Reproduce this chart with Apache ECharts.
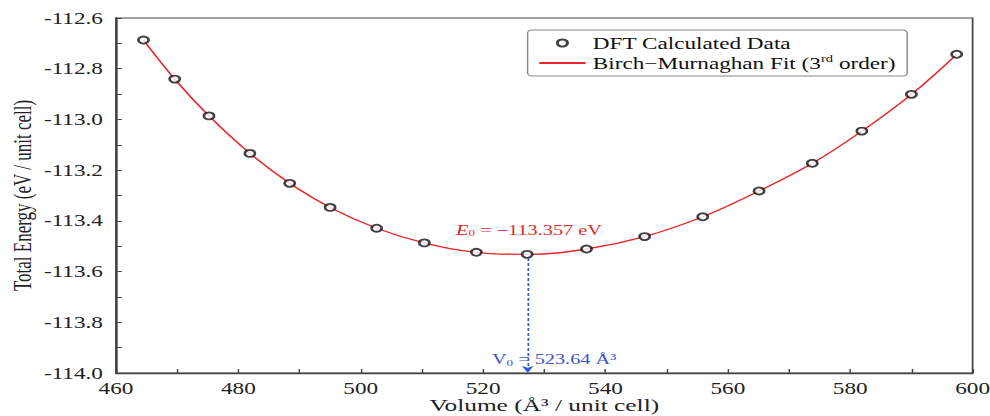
<!DOCTYPE html>
<html>
<head>
<meta charset="utf-8">
<script src="https://cdn.jsdelivr.net/npm/echarts/dist/echarts.min.js"></script>
<style>
  html, body { margin: 0; padding: 0; background: #fff; overflow: hidden; }
  /* the reference picture is stretched sideways, so draw narrow and stretch */
  #main { width: 683px; height: 416px; transform: scaleX(1.4495); transform-origin: 0 0; }
</style>
</head>
<body>
<div id="main"></div>
<script>
// DFT points
const volume = [464.5, 469.6, 475.2, 481.9, 488.4, 495.0, 502.6, 510.4, 518.9, 527.2, 536.9, 546.4, 555.9, 565.1, 573.8, 581.9, 590.0, 597.4]
const energy = [-112.687, -112.841, -112.986, -113.134, -113.252, -113.347, -113.429, -113.487, -113.524, -113.532, -113.511, -113.462, -113.384, -113.282, -113.173, -113.046, -112.901, -112.743]

const xMin = 460
const xMax = 600
const xStep = 20
const yMin = -114.0
const yMax = -112.6
const yStep = 0.2

const v0Line = 527.3

const serif = '"Liberation Serif", "Times New Roman", serif'
const points = volume.map((v, i) => [v, energy[i]])

const chart = echarts.init(document.getElementById('main'), null, { renderer: 'svg' })

chart.setOption({
  animation: false,
  grid: {
    left: 80,
    right: 12,
    top: 18,
    bottom: 43,
    outerBoundsMode: 'none',
    containLabel: false,
    show: true,
    borderColor: '#444',
    borderWidth: 1.2
  },
  legend: {
    orient: 'vertical',
    left: 364,
    top: 30,
    padding: [5, 8, 5, 7],
    itemWidth: 32,
    itemHeight: 7,
    itemGap: 3,
    borderColor: '#888',
    borderWidth: 1,
    borderRadius: 3,
    data: [
      'DFT Calculated Data',
      { name: 'Birch−Murnaghan Fit', itemStyle: { opacity: 0 } }
    ],
    formatter: name => {
      if (name === 'Birch−Murnaghan Fit') {
        return '{t|Birch−Murnaghan Fit (3}{sup|rd}{t| order)}'
      }
      return '{t|' + name + '}'
    },
    textStyle: {
      fontFamily: serif,
      rich: {
        t: { fontFamily: serif, fontSize: 16, color: '#111', lineHeight: 18 },
        sup: { fontFamily: serif, fontSize: 10, color: '#111', lineHeight: 10, verticalAlign: 'top' }
      }
    }
  },
  xAxis: {
    type: 'value',
    min: xMin,
    max: xMax,
    interval: xStep,
    name: 'Volume (Å³ / unit cell)',
    nameLocation: 'middle',
    nameMoveOverlap: false,
    nameGap: 24,
    nameTextStyle: { fontFamily: serif, fontSize: 17.5, color: '#222', verticalAlign: 'top', lineHeight: 17 },
    axisLine: { lineStyle: { color: '#444', width: 1.4 } },
    axisTick: { inside: true, length: 4, lineStyle: { color: '#444' } },
    minorTick: { show: true, splitNumber: 2, length: 4, lineStyle: { color: '#444' } },
    axisLabel: { fontFamily: serif, fontSize: 16, color: '#222', margin: 7 },
    splitLine: { show: false }
  },
  yAxis: {
    type: 'value',
    min: yMin,
    max: yMax,
    interval: yStep,
    name: 'Total Energy (eV / unit cell)',
    nameLocation: 'middle',
    nameMoveOverlap: false,
    nameGap: 56,
    nameTextStyle: { fontFamily: serif, fontSize: 17, color: '#222' },
    axisLine: { lineStyle: { color: '#444', width: 1.4 } },
    axisTick: { inside: true, length: 4, lineStyle: { color: '#444' } },
    minorTick: { show: true, splitNumber: 2, length: 4, lineStyle: { color: '#444' } },
    axisLabel: {
      fontFamily: serif,
      fontSize: 16,
      color: '#222',
      margin: 9,
      formatter: v => v.toFixed(1)
    },
    splitLine: { show: false }
  },
  series: [{
    name: 'Birch−Murnaghan Fit',
    type: 'line',
    data: points,
    smooth: 0.4,
    symbol: 'none',
    z: 2,
    lineStyle: { color: '#e8272b', width: 1.3 },
    itemStyle: { color: '#e8272b' },
    markPoint: {
      silent: true,
      symbolSize: 0,
      data: [{
        coord: [527.5, -113.435],
        label: {
          show: true,
          formatter: '{i|E}{sub|0}{n| = −113.357 eV}',
          rich: {
            i: { fontFamily: serif, fontStyle: 'italic', fontSize: 14, color: '#e02a2a', lineHeight: 16 },
            sub: { fontFamily: serif, fontSize: 9, color: '#e02a2a', lineHeight: 9, verticalAlign: 'bottom' },
            n: { fontFamily: serif, fontSize: 14, color: '#e02a2a', lineHeight: 16 }
          }
        }
      }]
    }
  }, {
    name: 'DFT Calculated Data',
    type: 'scatter',
    data: points,
    symbol: 'circle',
    symbolSize: 7,
    z: 3,
    itemStyle: { color: '#fff', borderColor: '#111', borderWidth: 1.8 },
    markLine: {
      silent: true,
      symbol: ['none', 'arrow'],
      symbolSize: [6, 7],
      label: { show: false },
      lineStyle: { color: '#3358d4', type: [3, 2], width: 1.2 },
      data: [[{ coord: [v0Line, -113.546] }, { coord: [v0Line, yMin] }]]
    },
    markPoint: {
      silent: true,
      symbolSize: 0,
      data: [{
        coord: [531.6, -113.945],
        label: {
          show: true,
          formatter: '{n|V}{sub|0}{n| = 523.64 Å³}',
          rich: {
            n: { fontFamily: serif, fontSize: 14, color: '#3a55cf', lineHeight: 16 },
            sub: { fontFamily: serif, fontSize: 9, color: '#3a55cf', lineHeight: 9, verticalAlign: 'bottom' }
          }
        }
      }]
    }
  }]
})
</script>
</body>
</html>
